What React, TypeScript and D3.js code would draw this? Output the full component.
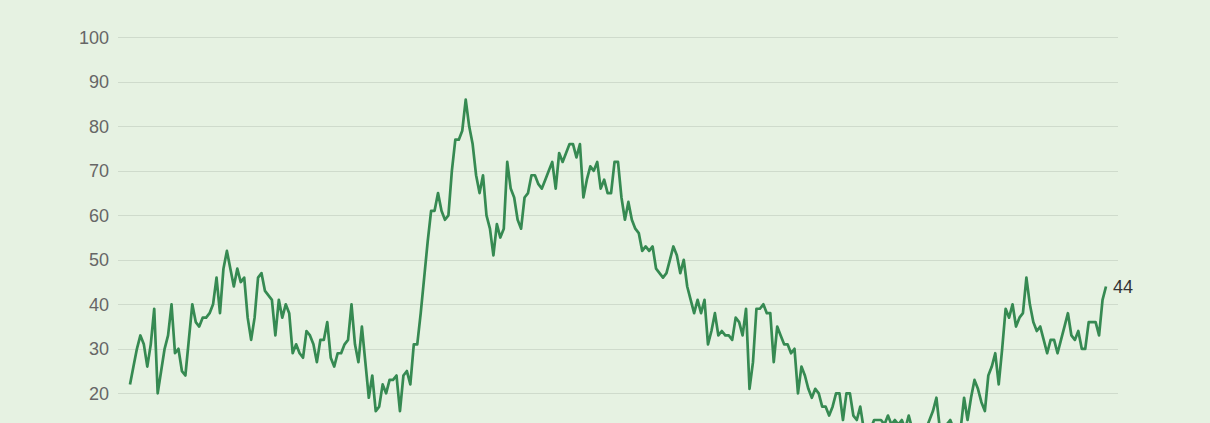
import React, { useEffect, useRef } from 'react';
import * as d3 from 'd3';

// weekly index values
const values: number[] = [
    22, 26, 30, 33, 31, 26, 31, 39, 20, 25, 30, 33, 40, 29, 30, 25, 24, 32, 40, 36,
    35, 37, 37, 38, 40, 46, 38, 48, 52, 48, 44, 48, 45, 46, 37, 32, 37, 46, 47, 43,
    42, 41, 33, 41, 37, 40, 38, 29, 31, 29, 28, 34, 33, 31, 27, 32, 32, 36, 28, 26,
    29, 29, 31, 32, 40, 31, 27, 35, 27, 19, 24, 16, 17, 22, 20, 23, 23, 24, 16, 24,
    25, 22, 31, 31, 38, 46, 54, 61, 61, 65, 61, 59, 60, 70, 77, 77, 79, 86, 80, 76,
    69, 65, 69, 60, 57, 51, 58, 55, 57, 72, 66, 64, 59, 57, 64, 65, 69, 69, 67, 66,
    68, 70, 72, 66, 74, 72, 74, 76, 76, 73, 76, 64, 68, 71, 70, 72, 66, 68, 65, 65,
    72, 72, 64, 59, 63, 59, 57, 56, 52, 53, 52, 53, 48, 47, 46, 47, 50, 53, 51, 47,
    50, 44, 41, 38, 41, 38, 41, 31, 34, 38, 33, 34, 33, 33, 32, 37, 36, 33, 39, 21,
    27, 39, 39, 40, 38, 38, 27, 35, 33, 31, 31, 29, 30, 20, 26, 24, 21, 19, 21, 20,
    17, 17, 15, 17, 20, 20, 14, 20, 20, 15, 14, 17, 12, 10, 12, 14, 14, 14, 13, 15,
    13, 14, 13, 14, 12, 15, 12, 10, 9, 11, 12, 14, 16, 19, 12, 10, 13, 14, 12, 10,
    12, 19, 14, 19, 23, 21, 18, 16, 24, 26, 29, 22, 30, 39, 37, 40, 35, 37, 38, 46,
    40, 36, 34, 35, 32, 29, 32, 32, 29, 32, 35, 38, 33, 32, 34, 30, 30, 36, 36, 36,
    33, 41, 44,
];
// only the ticks that fall inside the visible frame
const yTicks: number[] = [20, 30, 40, 50, 60, 70, 80, 90, 100];

const W = 1210;
const H = 423;

const Chart: React.FC<{ data: number[] }> = ({ data }) => {
    const svgRef = useRef<SVGSVGElement>(null);

    useEffect(() => {
        if (!svgRef.current) return;
        const svg = d3.select(svgRef.current);
        svg.selectAll('*').remove();

        const xScale = d3.scaleLinear()
            .domain([0, data.length - 1])
            .range([130, 1106]);

        const yScale = d3.scaleLinear()
            .domain([0, 100])
            .range([482.3, 37.3]);

        svg.append('rect')
            .attr('width', W)
            .attr('height', H)
            .attr('fill', '#e6f2e2');

        // grid lines
        svg.append('g')
            .selectAll('line')
            .data(yTicks)
            .join('line')
            .attr('x1', 118)
            .attr('x2', 1118)
            .attr('y1', d => Math.round(yScale(d)) + 0.5)
            .attr('y2', d => Math.round(yScale(d)) + 0.5)
            .style('stroke', '#cfdbcc')
            .style('stroke-width', 1);

        // y labels
        svg.append('g')
            .selectAll('text')
            .data(yTicks)
            .join('text')
            .attr('x', 109)
            .attr('y', d => yScale(d))
            .attr('dy', '0.35em')
            .attr('text-anchor', 'end')
            .style('font-family', '"Liberation Sans", Arial, Helvetica, sans-serif')
            .style('font-size', '18px')
            .style('fill', '#666')
            .text(d => String(d));

        const line = d3.line<number>()
            .x((_, i) => xScale(i))
            .y(d => yScale(d));

        svg.append('path')
            .datum(data)
            .attr('d', line)
            .style('fill', 'none')
            .style('stroke', '#368a52')
            .style('stroke-width', 2.7)
            .style('stroke-linejoin', 'round');

        const last = data.length - 1;
        svg.append('text')
            .attr('x', xScale(last) + 7)
            .attr('y', yScale(data[last]))
            .attr('dy', '0.35em')
            .style('font-family', '"Liberation Sans", Arial, Helvetica, sans-serif')
            .style('font-size', '18px')
            .style('fill', '#333')
            .text(String(data[last]));
    }, [data]);

    return (
        <svg
            ref={svgRef}
            width={W}
            height={H}
            style={{ position: 'absolute', left: 0, top: 0, display: 'block', overflow: 'hidden' }}
        />
    );
};

const App: React.FC = () => {
    return <Chart data={values} />;
};

export default App;
